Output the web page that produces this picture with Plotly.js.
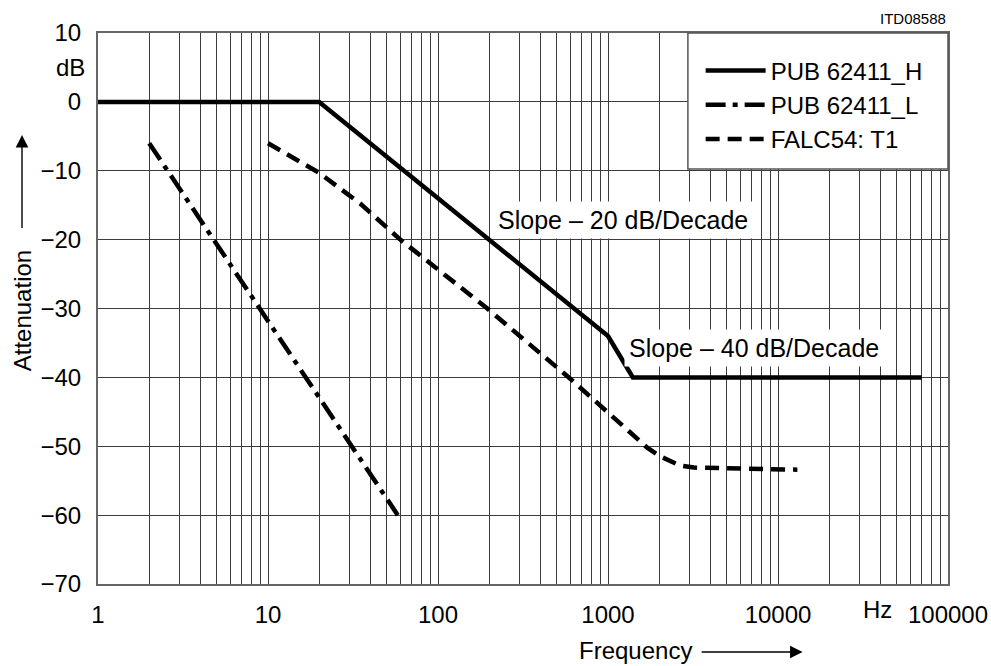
<!DOCTYPE html>
<html>
<head>
<meta charset="utf-8">
<script src="https://cdn.plot.ly/plotly-3.0.1.min.js"></script>
<style>html,body{margin:0;padding:0;background:#fff;}#chart{width:991px;height:666px;}</style>
</head>
<body>
<div id="chart"></div>
<script>
// ---- data ----
const seriesNames = ['PUB 62411_H', 'PUB 62411_L', 'FALC54: T1'];

const hFreq = [1, 20, 1000, 1400, 70000];
const hAtt  = [0, 0, -34, -40, -40];

const lFreq = [2, 58];
const lAtt  = [-6, -60];

const fFreq = [10, 20, 35, 60, 195, 600, 1700, 2000, 2650, 3200, 13000];
const fAtt  = [-6, -10.3, -14.8, -20, -30, -40.2, -50.2, -51.4, -52.8, -53.1, -53.4];

const xTickVals = [1, 10, 100, 1000, 10000, 100000];
const xTickText = ['1', '10', '100', '1000', '10000', '100000'];
const yTickVals = [10, 0, -10, -20, -30, -40, -50, -60, -70];
const yTickText = ['10', '0', '\u221210', '\u221220', '\u221230', '\u221240', '\u221250', '\u221260', '\u221270'];

// minor grid positions (2..9 in each decade)
const minorVals = [];
for (let d = 0; d < 5; d++) {
  for (let m = 2; m <= 9; m++) minorVals.push(m * Math.pow(10, d));
}

const FONT = 'Liberation Sans, Arial, sans-serif';

const traces = [
  {x: hFreq, y: hAtt, name: seriesNames[0], mode: 'lines',
   line: {color: '#000', width: 4.5}},
  {x: lFreq, y: lAtt, name: seriesNames[1], mode: 'lines',
   line: {color: '#000', width: 4.5, dash: '20px,7px,5px,7px'}},
  {x: fFreq, y: fAtt, name: seriesNames[2], mode: 'lines',
   line: {color: '#000', width: 4.5, dash: '14px,8px'}}
];

const gridColor = '#3c3c3c';

const layout = {
  width: 991, height: 666,
  margin: {l: 98, r: 43, t: 33, b: 82, pad: 0},
  paper_bgcolor: '#fff', plot_bgcolor: '#fff',
  font: {family: FONT, size: 24, color: '#000'},
  showlegend: true,
  legend: {
    x: 0.709, xanchor: 'left', y: 0.972, yanchor: 'top',
    bgcolor: 'rgba(0,0,0,0)', borderwidth: 0,
    font: {family: FONT, size: 24, color: '#000'},
    itemwidth: 60, tracegroupgap: 0
  },
  xaxis: {
    type: 'log', range: [0, 5],
    tickmode: 'array', tickvals: xTickVals, ticktext: xTickText,
    ticks: '', ticklabelstandoff: 8,
    showgrid: true, gridcolor: gridColor, gridwidth: 1,
    minor: {tickmode: 'array', tickvals: minorVals, showgrid: true, gridcolor: gridColor, gridwidth: 1, ticks: ''},
    showline: true, linecolor: '#666', linewidth: 2, mirror: true,
    zeroline: false, tickfont: {family: FONT, size: 24}
  },
  yaxis: {
    range: [-70, 10],
    tickmode: 'array', tickvals: yTickVals, ticktext: yTickText,
    ticks: '', ticklabelstandoff: 10,
    showgrid: true, gridcolor: gridColor, gridwidth: 1,
    showline: true, linecolor: '#666', linewidth: 2, mirror: true,
    zeroline: false, tickfont: {family: FONT, size: 24}
  },
  shapes: [
    {type: 'rect', xref: 'paper', yref: 'paper', x0: 0.694, x1: 1, y0: 0.753, y1: 1,
     fillcolor: '#fff', line: {color: '#555', width: 1.5}, layer: 'above'}
  ],
  annotations: [
    {xref: 'paper', yref: 'y', x: -0.013, y: 5, xanchor: 'right', yanchor: 'middle',
     text: 'dB', showarrow: false, font: {family: FONT, size: 24}},
    {xref: 'x', yref: 'paper', x: 4.588, y: -0.047, xanchor: 'center', yanchor: 'middle',
     text: 'Hz', showarrow: false, font: {family: FONT, size: 24}},
    {xref: 'paper', yref: 'paper', x: 1, y: 1.027, xanchor: 'right', yanchor: 'middle',
     text: 'ITD08588', showarrow: false, font: {family: FONT, size: 15}},
    {xref: 'x', yref: 'y', x: 3.088, y: -17.1, xanchor: 'center', yanchor: 'middle',
     text: 'Slope \u2013 20 dB/Decade', showarrow: false, bgcolor: '#fff', borderpad: 4,
     font: {family: FONT, size: 25}},
    {xref: 'x', yref: 'y', x: 3.86, y: -35.7, xanchor: 'center', yanchor: 'middle',
     text: 'Slope \u2013 40 dB/Decade', showarrow: false, bgcolor: '#fff', borderpad: 4,
     font: {family: FONT, size: 25}},
    {xref: 'paper', yref: 'paper', x: -0.0894, y: 0.495, xanchor: 'center', yanchor: 'middle',
     text: 'Attenuation', textangle: -90, showarrow: false, font: {family: FONT, size: 24}},
    {xref: 'paper', yref: 'paper', x: -0.0894, y: 0.815, showarrow: true,
     ax: 0, ay: 108, arrowhead: 2, arrowsize: 1.8, arrowwidth: 1.4, arrowcolor: '#000', standoff: 0},
    {xref: 'paper', yref: 'paper', x: 0.632, y: -0.12, xanchor: 'center', yanchor: 'middle',
     text: 'Frequency', showarrow: false, font: {family: FONT, size: 24}},
    {xref: 'paper', yref: 'paper', x: 0.829, y: -0.1234, showarrow: true,
     ax: -106, ay: 0, arrowhead: 2, arrowsize: 1.8, arrowwidth: 1.4, arrowcolor: '#000', standoff: 0}
  ]
};

Plotly.newPlot('chart', traces, layout, {displayModeBar: false, staticPlot: true});
</script>
</body>
</html>
